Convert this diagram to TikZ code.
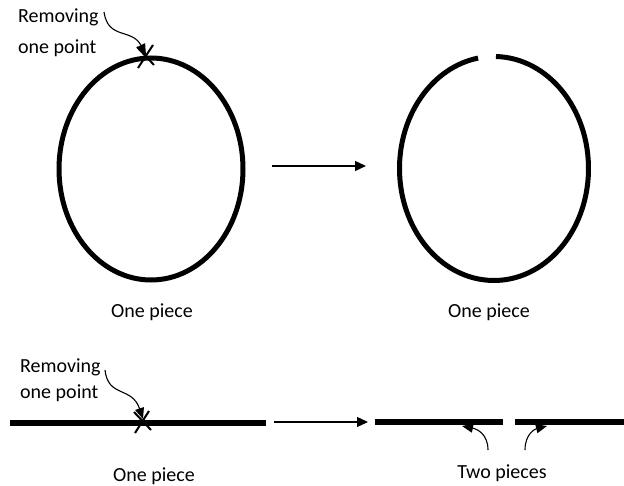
\documentclass[tikz,border=0pt]{standalone}
\usepackage{fontspec}
\setmainfont{Carlito}
\usetikzlibrary{arrows.meta}
\begin{document}
\begin{tikzpicture}[x=1pt,y=-1pt,
  lbl/.style={font=\fontsize{20}{24}\selectfont, inner sep=0pt},
  ring/.style={line width=5pt},
  conn/.style={line width=1.3pt, -{Triangle[length=11pt,width=10pt]}},
  ptr/.style={line width=1.1pt, -{Triangle[length=11pt,width=9pt]}},
  xmark/.style={line width=2pt},
  bar/.style={line width=6pt}]
\useasboundingbox (0,0) rectangle (624,486);

% ---- top row ----
\draw[ring] (151,169) ellipse [x radius=92, y radius=111];
\draw[ring] ([shift={(271.2:94.5 and 112)}]494,168.5)
  arc[start angle=271.2, end angle=620.3, x radius=94.5, y radius=112];

\node[lbl, anchor=base west] (rem1) at (18,23) {Removing};
\node[lbl, anchor=base west] (pt1) at (18,54) {one point};
\coordinate (p1s) at (104,12);
\coordinate (x1) at (146,55);
\draw[xmark] (137,47) -- (154,65);
\draw[xmark] (153,45) -- (138,68);
\draw[ptr] (p1s) .. controls (108,40) and (132,28) .. (x1);

\coordinate (a1s) at (272,166);
\coordinate (a1e) at (366,166);
\draw[conn] (a1s) -- (a1e);

\node[lbl, anchor=base] (op1) at (152,318) {One piece};
\node[lbl, anchor=base] (op2) at (489,318) {One piece};

% ---- bottom row ----
\coordinate (l1) at (10,422.5);
\coordinate (l2) at (266,422.5);
\draw[bar] (l1) -- (l2);

\node[lbl, anchor=base west] (rem2) at (20,373) {Removing};
\node[lbl, anchor=base west] (pt2) at (20,399) {one point};
\coordinate (p2s) at (105,370);
\coordinate (x2) at (143,419);
\draw[xmark] (134,412) -- (151,430);
\draw[xmark] (149,411) -- (135,433);
\draw[ptr] (p2s) .. controls (108,398) and (132,386) .. (x2);

\coordinate (a2s) at (274,422);
\coordinate (a2e) at (368,422);
\draw[conn] (a2s) -- (a2e);

\coordinate (r1a) at (375,422);
\coordinate (r1b) at (503,422);
\coordinate (r2a) at (515,422);
\coordinate (r2b) at (624,422);
\draw[bar, line width=5.5pt] (r1a) -- (r1b);
\draw[bar, line width=5.5pt] (r2a) -- (r2b);

\node[lbl, anchor=base] (op3) at (154,481) {One piece};
\node[lbl, anchor=base] (tp) at (502,478) {Two pieces};

\coordinate (t1s) at (488,450);
\coordinate (t1e) at (462,426);
\coordinate (t2s) at (525,450);
\coordinate (t2e) at (547,426);
\draw[ptr] (t1s) .. controls (488,434) and (477,429) .. (t1e);
\draw[ptr] (t2s) .. controls (525,434) and (535,429) .. (t2e);
\end{tikzpicture}
\end{document}
